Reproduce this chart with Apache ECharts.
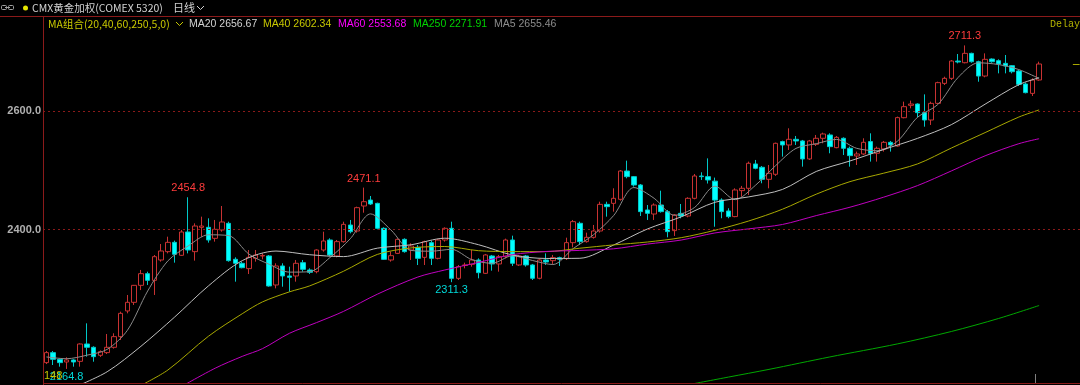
<!DOCTYPE html>
<html><head><meta charset="utf-8">
<script src="https://cdn.jsdelivr.net/npm/echarts@6/dist/echarts.min.js"></script>
<style>html,body{margin:0;padding:0;background:#000;}#c{width:1080px;height:385px;}</style>
</head><body><div id="c"></div>
<script>
// ---- daily candles (open / close / low / high) ----
const opens = [2175.4,2192.3,2181,2176.5,2179.9,2177.6,2206.9,2201.3,2187.8,2192.3,
2201.3,2219.3,2262.7,2277.3,2306,2325.7,2314.4,2348.8,2362.9,2378.6,
2356.7,2396.1,2362.9,2404,2404,2385.4,2399.5,2410.7,2350,2343.2,
2334.2,2351.6,2355.6,2355.6,2306.6,2338.7,2321.8,2321.8,2344.3,2331.9,
2329.1,2365.7,2382.6,2355.6,2379.8,2407.9,2397.8,2440,2450.1,2444.5,
2402.3,2348.8,2360,2383.7,2365.7,2370.2,2353.3,2378.1,2351.6,2382.6,
2402.3,2317.8,2339.5,2341.5,2348.8,2326.3,2355.6,2342.1,2354.4,2382.6,
2340.4,2355.6,2340.4,2317.9,2348.8,2347.7,2352.8,2351.1,2378.1,2410.8,
2379.8,2387.1,2397.8,2442.8,2444.5,2451.3,2499.1,2489.6,2475.5,2433.3,
2426.5,2441.7,2430.5,2398.4,2427.6,2423.1,2453,2490.7,2489.6,2482,
2450.2,2431.6,2422.1,2466,2469.9,2511,2505.4,2485.1,2493.6,2548.8,
2543.1,2552.7,2549.9,2519.5,2544.2,2554.4,2560,2538.6,2554.4,2537.5,
2524.5,2527.9,2548.8,2529.1,2536.4,2547.6,2541.4,2589.2,2610.1,2612.3,
2597.7,2585.3,2613.4,2647.2,2655.7,2684.9,2682.1,2697.9,2683.8,2659.6,
2688.3,2685.5,2681,2677.1,2668.1,2646.1,2630.3,2652.9];
const closes = [2192.3,2181,2175.4,2179.9,2176.5,2206.9,2201.3,2185.5,2194,2201.3,
2219.3,2258.7,2277.3,2306,2325.7,2314.4,2354.4,2364,2378.6,2358.4,
2396.1,2365.7,2406.2,2406.2,2382.6,2400.6,2413,2347.7,2343.2,2335.8,
2353.3,2357.2,2356.5,2304.9,2338.7,2321.8,2319.5,2343.2,2333,2328,
2365.7,2380.9,2357.2,2379.8,2409,2396.6,2437.2,2447.3,2443.4,2402.3,
2349.9,2356.1,2383.7,2362.9,2372.4,2351.6,2379.8,2351.6,2382.6,2402.3,
2317.8,2337.5,2340.4,2348.8,2327.4,2357.3,2342.1,2354.4,2382.6,2343.2,
2355.6,2340.4,2317.9,2348.8,2345.4,2352.8,2350,2378.1,2413.6,2379.8,
2387.1,2397.8,2442.8,2438.9,2453,2499.1,2489.6,2475.5,2430.5,2427.6,
2441.7,2430.5,2396.7,2424.8,2423.1,2453,2490.7,2489.6,2484,2450,
2430.5,2422.1,2467.1,2469.9,2512.2,2503.7,2485.1,2495.3,2545.9,2543.1,
2552.7,2549.9,2519.5,2549.9,2554.4,2561.7,2540.3,2556,2537.5,2525.1,
2527.9,2547.6,2529.1,2537.5,2547.6,2543.1,2589.3,2607.8,2612.3,2597.7,
2585.3,2613.4,2648.4,2655.7,2684.9,2683.3,2697.9,2683.8,2659.6,2687.8,
2683.8,2679.9,2676.5,2666.9,2645.5,2631.5,2652.9,2679.9];
const lows = [2173,2171.4,2168.6,2164.8,2168.6,2168.6,2185.5,2177,2185,2190,
2199,2213.7,2258.7,2272.8,2298,2306.6,2289.7,2346,2360,2344.3,
2355.6,2360,2347.7,2388.2,2378.1,2379.8,2396.6,2346,2312.2,2334.7,
2325.1,2346,2349.9,2303.7,2300.9,2303.7,2295.3,2312.2,2329.1,2325.1,
2326.3,2362.9,2355.6,2353.3,2378.1,2393.8,2395,2428.7,2441.7,2400.6,
2348.8,2346,2358.9,2361.2,2348.8,2340.3,2340.3,2340.3,2349.9,2379.8,
2311.3,2315,2334.7,2337.5,2317.8,2325.2,2330.8,2329.1,2351.6,2338.7,
2338.7,2337.6,2315,2316.2,2340.4,2342.1,2338.7,2348.8,2370.2,2374.2,
2378.1,2384.9,2395,2422,2430.5,2449,2486.8,2472.7,2423.1,2416.4,
2416.4,2428.8,2387.1,2389.4,2419.2,2420.9,2451.3,2484,2478,2405,
2419.3,2419.3,2421,2455.8,2458.7,2502,2478.4,2469.9,2490.8,2523.4,
2534.7,2543.1,2506.5,2517.8,2541.4,2546,2529.1,2537.5,2526.2,2506.5,
2509.3,2526.2,2515,2515,2531.9,2531.9,2540.3,2588.1,2605,2589.8,
2574,2576.9,2612.3,2644.4,2652.9,2681,2681,2682.1,2650,2657.4,
2682.1,2664.1,2664.1,2664.1,2642.7,2630.3,2625.8,2651.7];
const highs = [2195,2195,2182,2184.4,2181,2208,2241.8,2203,2196,2223.8,
2225,2261.5,2289.7,2306.6,2332,2329,2357.2,2375.8,2388.2,2381.5,
2399.5,2454.8,2410.7,2422,2419.2,2416.4,2440,2413.5,2353.3,2346,
2365.7,2365.7,2360,2357.2,2343.2,2343.2,2337.5,2348.8,2348.8,2334.7,
2366.8,2396.6,2385.4,2382.6,2413.5,2416.4,2438.9,2471.1,2456.9,2445.6,
2404,2362.9,2385.4,2385.4,2377,2374.1,2381.4,2381.4,2383.7,2404,
2413.5,2340.3,2344.3,2365.7,2351.6,2359,2357.3,2357.3,2384.9,2389.9,
2357.3,2357.3,2342.1,2350,2360,2357.3,2354.4,2386.5,2416.4,2413.6,
2395,2408,2447.3,2447.3,2469.9,2500.8,2516.6,2490.7,2477.2,2441.7,
2444.5,2465.9,2433.3,2426.5,2443.4,2454.7,2494.1,2497,2520.5,2488,
2453,2436.2,2469.9,2473.9,2515,2517.8,2507.6,2509.3,2547.1,2550.4,
2571.3,2558.3,2551.6,2551.6,2560,2563.9,2562.8,2558.3,2556,2540.3,
2531.9,2554.4,2562.8,2540.3,2549.9,2549.9,2591,2616.3,2618,2613.4,
2628.6,2616.3,2650,2658.5,2686.6,2696.8,2711.3,2699,2685.5,2697.9,
2689.4,2687.8,2695.1,2678.2,2669.7,2648.4,2655.7,2683.8];

// ---- moving-average lines: [candle index, value] ----
const ma5 = [[0,2185],[3,2182],[6,2188],[9,2197.8],[12,2230.1],[15,2296.4],[18,2347.4],[21,2372.6],[24,2391.4],[27,2390],
[30,2358.6],[33,2341.5],[36,2328.3],[39,2329.1],[42,2353],[45,2384.7],[48,2426.7],[51,2399.8],[54,2365],[57,2363.7],
[60,2366.8],[63,2349.4],[66,2343.2],[69,2355.9],[72,2347.9],[75,2341.1],[78,2368],[81,2391.3],[84,2423.9],[87,2471.2],
[90,2453],[93,2424.3],[96,2437.7],[99,2473.5],[102,2450.7],[105,2475],[108,2508.4],[111,2537.4],[114,2545.3],[117,2552.5],
[120,2537.4],[123,2533.4],[126,2549.3],[129,2590],[132,2611.4],[135,2657.1],[138,2681.9],[141,2679],[144,2670.5],[147,2655.46]];
const ma20 = [[4,2133],[9,2160],[14,2203],[19,2252.5],[24,2305.1],[29,2347.7],[34,2363.9],[39,2357.7],[44,2354.5],[49,2368.8],
[54,2374.5],[59,2385.6],[64,2374.6],[69,2357.2],[74,2351.4],[79,2351.7],[84,2374.1],[89,2401.2],[94,2421.7],[99,2446.3],
[104,2455.4],[109,2468],[114,2498.4],[119,2516.1],[124,2535.5],[129,2554.3],[134,2577.4],[139,2612],[144,2645.1],[147,2656.67]];
const ma40 = [[14,2137],[18,2163],[24,2220],[29,2258],[32,2278],[36,2295],[39,2305.1],[44,2329.8],[49,2358.2],[54,2369.2],
[59,2371.6],[64,2364.5],[69,2363],[74,2362.9],[79,2368.7],[84,2374.3],[89,2379.2],[94,2386.5],[99,2399],[104,2414.7],
[109,2434.6],[114,2460],[119,2481.2],[124,2495.5],[129,2511.1],[134,2537.9],[139,2564],[144,2590.3],[147,2602.34]];
const ma60 = [[20,2135],[25,2166],[29,2186],[32,2199],[36,2225],[40,2243],[44,2262],[49,2291],[55,2320],[59,2331.9],
[64,2344.7],[69,2357.9],[74,2363.2],[79,2365],[84,2367.7],[89,2375.7],[94,2382.5],[99,2394.5],[104,2401.4],[109,2408.8],
[114,2423.8],[119,2438],[124,2455],[129,2474.5],[134,2499.2],[139,2524.8],[144,2545.3],[147,2553.68]];
const ma250 = [[95,2138],[101,2151],[107,2164],[116,2185],[126,2207],[134,2228],[141,2250],[147,2271.91]];

// ---- labels ----
const maNames = ['MA20','MA40','MA60','MA250','MA5'];
const maLast = ['2656.67','2602.34','2553.68','2271.91','2655.46'];
const yTicks = [2400, 2600];
const peakLabels = [[21, 2454.8], [47, 2471.1], [136, 2711.3]];
const troughLabels = [[60, 2311.3], [3, 2164.8]];
const titleText = 'CMX黄金加权(COMEX 5320)';
const periodText = '日线';
const groupText = 'MA组合(20,40,60,250,5,0)';
const delayText = 'Delay';
const cornerNote = '148';
const slotCount = 154;
const categories = Array.from({length: slotCount}, (_, k) => 'D' + (k + 1));

const candleData = opens.map((o, k) => [o, closes[k], lows[k], highs[k]]);
const lastClose = closes[closes.length - 1];

const RED = '#c83232', LBL_RED = '#ff3c3c', CYAN = '#00ffff', FRAME = '#8b1a1a';
const NUM_FONT = '"Liberation Sans", Arial, sans-serif';
const CJK_FONT = '"Noto Sans CJK SC", "Liberation Sans", sans-serif';

const chart = echarts.init(document.getElementById('c'), null, {renderer: 'canvas'});

function maSeries(name, data, color) {
  return {name, type: 'line', data, showSymbol: false, smooth: 0.3, clip: true,
    lineStyle: {color, width: 1}, silent: true, z: 3};
}

const markPts = peakLabels.map(([i, v]) => ({coord: [i, v], value: v,
    label: {position: 'top', distance: 3, color: LBL_RED}}))
  .concat(troughLabels.map(([i, v]) => ({coord: [i, v], value: v,
    label: {position: 'bottom', distance: 2, color: '#00d8d8'}})));

const legendColors = ['#d2d2d2', '#c8c800', '#ff00ff', '#00d200', '#8c8c8c'];
const legendX = [189, 263, 338, 413, 494];
const graphics = [
  {type: 'line', shape: {x1: 0, y1: 16.5, x2: 1080, y2: 16.5}, style: {stroke: FRAME, lineWidth: 1}, z: 10},
  {type: 'line', shape: {x1: 43.5, y1: 16, x2: 43.5, y2: 385}, style: {stroke: FRAME, lineWidth: 1}, z: 10},
  {type: 'line', shape: {x1: 43, y1: 383.5, x2: 1080, y2: 383.5}, style: {stroke: FRAME, lineWidth: 1}, z: 10},
  // link icon
  {type: 'rect', shape: {x: 1.5, y: 5.5, width: 5, height: 4, r: 1}, style: {stroke: '#a0a0a0', fill: null, lineWidth: 1}},
  {type: 'rect', shape: {x: 8.5, y: 5.5, width: 5, height: 4, r: 1}, style: {stroke: '#a0a0a0', fill: null, lineWidth: 1}},
  {type: 'line', shape: {x1: 5, y1: 7.5, x2: 10, y2: 7.5}, style: {stroke: '#a0a0a0', lineWidth: 1}},
  {type: 'circle', shape: {cx: 25.5, cy: 8, r: 2.5}, style: {fill: '#e6e600'}},
  {type: 'text', x: 32, y: 8, style: {text: titleText, fill: '#d2d2d2', font: '10.5px ' + CJK_FONT, textVerticalAlign: 'middle'}},
  {type: 'text', x: 173, y: 8, style: {text: periodText, fill: '#d2d2d2', font: '11px ' + CJK_FONT, textVerticalAlign: 'middle'}},
  {type: 'polyline', shape: {points: [[197, 6], [200.5, 9.5], [204, 6]]}, style: {stroke: '#d2d2d2', fill: null, lineWidth: 1}},
  {type: 'text', x: 48, y: 24, style: {text: groupText, fill: '#c8c800', font: '10.5px ' + CJK_FONT, textVerticalAlign: 'middle'}},
  {type: 'polyline', shape: {points: [[176, 22], [179.5, 25.5], [183, 22]]}, style: {stroke: '#c8c800', fill: null, lineWidth: 1}},
  {type: 'text', x: 1050, y: 24, style: {text: delayText, fill: '#b4b400', font: '10px "Liberation Mono", "DejaVu Sans Mono", monospace', textVerticalAlign: 'middle'}},
  {type: 'text', x: 44, y: 376, z: 20, style: {text: cornerNote, fill: '#c8c800', font: '11px ' + NUM_FONT, textVerticalAlign: 'middle'}},
  {type: 'line', shape: {x1: 1035.5, y1: 374, x2: 1035.5, y2: 383}, style: {stroke: '#808080', lineWidth: 1}}
].concat(maNames.map((n, k) => ({type: 'text', x: legendX[k], y: 24,
  style: {text: n + ' ' + maLast[k], fill: legendColors[k], font: '10.5px ' + NUM_FONT, textVerticalAlign: 'middle'}})));

chart.setOption({
  backgroundColor: '#000000',
  animation: false,
  grid: {left: 43, right: -3, top: 16, bottom: 2, containLabel: false, outerBoundsMode: 'none'},
  xAxis: {type: 'category', data: categories, boundaryGap: true,
    axisLine: {show: false}, axisTick: {show: false}, axisLabel: {show: false}, splitLine: {show: false}},
  yAxis: {type: 'value', min: 2141, max: 2761, scale: true,
    axisLine: {show: false}, axisTick: {show: false}, axisLabel: {show: false}, splitLine: {show: false}},
  graphic: graphics,
  series: [
    {type: 'candlestick', data: candleData, barWidth: 5, z: 2,
      itemStyle: {color: '#000000', color0: CYAN, borderColor: RED, borderColor0: '#00c8c8', borderWidth: 1},
      markLine: {silent: true, symbol: ['none', 'none'], animation: false,
        data: yTicks.map(v => ({yAxis: v, lineStyle: {color: FRAME, type: [2, 3], width: 1},
          label: {show: true, position: 'start', distance: 2, formatter: p => p.value.toFixed(1),
            color: '#b0b0b0', fontSize: 11, fontWeight: 'bold', fontFamily: NUM_FONT}}))
          .concat([[{coord: [152, lastClose], lineStyle: {color: '#a8a800', type: 'solid', width: 1}, label: {show: false}},
                    {coord: [153, lastClose]}]])},
      markPoint: {symbol: 'circle', symbolSize: 1, itemStyle: {color: 'rgba(0,0,0,0)'}, silent: true, animation: false,
        label: {show: true, formatter: p => p.value.toFixed(1), fontSize: 11, fontFamily: NUM_FONT},
        data: markPts}
    },
    maSeries('MA5', ma5, '#8a8a8a'),
    maSeries('MA20', ma20, '#bebebe'),
    maSeries('MA40', ma40, '#a8a800'),
    maSeries('MA60', ma60, '#c000c0'),
    maSeries('MA250', ma250, '#00a800')
  ]
});
</script></body></html>
